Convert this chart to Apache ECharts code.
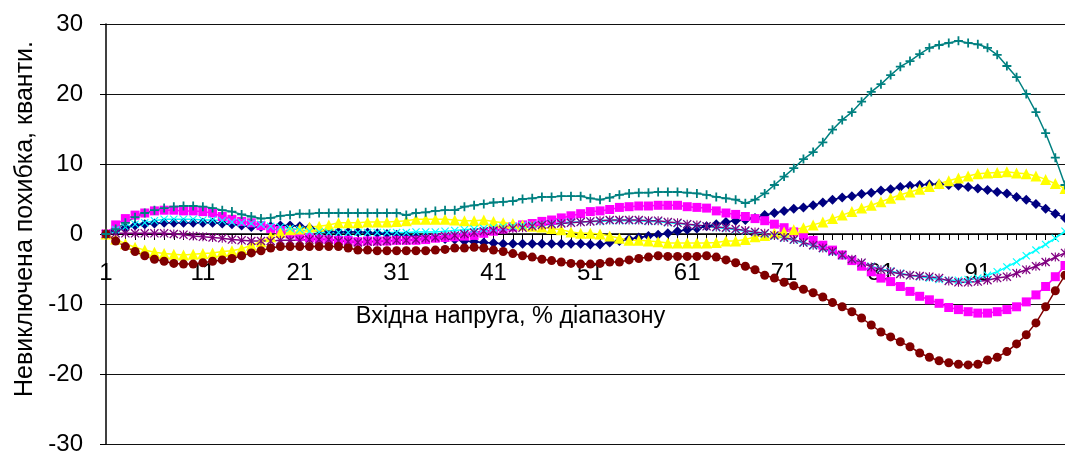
<!DOCTYPE html>
<html>
<head>
<meta charset="utf-8">
<script src="https://cdn.jsdelivr.net/npm/echarts@6/dist/echarts.min.js"></script>
<style>
  html, body { margin: 0; padding: 0; background: #fff; }
  #chart { width: 1065px; height: 455px; }
</style>
</head>
<body>
<div id="chart"></div>
<script>
// вхідна напруга, % діапазону: 1..100
var categories = [];
for (var i = 1; i <= 100; i++) categories.push(String(i));

var yTicks = [-30, -20, -10, 0, 10, 20, 30];

// серії (кольори як у Excel за замовчуванням)
var navy = [
  0, 0.5, 0.9, 1.2, 1.4, 1.5, 1.6, 1.6, 1.6, 1.6,
  1.6, 1.6, 1.5, 1.4, 1.2, 1.0, 1.0, 1.1, 1.2, 1.2,
  1.1, 0.9, 0.6, 0.4, 0.3, 0.3, 0.3, 0.2, 0.1, 0.0,
  -0.1, -0.2, -0.3, -0.4, -0.5, -0.7, -0.8, -1.0, -1.1, -1.2,
  -1.3, -1.4, -1.4, -1.4, -1.4, -1.4, -1.4, -1.4, -1.4, -1.4,
  -1.5, -1.5, -1.2, -1.0, -0.7, -0.5, -0.3, -0.1, 0.1, 0.4,
  0.6, 0.8, 1.1, 1.4, 1.7, 1.9, 2.0, 2.3, 2.7, 3.0,
  3.3, 3.6, 3.8, 4.1, 4.5, 4.9, 5.2, 5.4, 5.7, 5.9,
  6.2, 6.4, 6.7, 6.9, 7.0, 7.1, 7.1, 7.0, 6.9, 6.7,
  6.5, 6.3, 6.0, 5.8, 5.3, 4.9, 4.3, 3.6, 2.9, 2.3
];
var magenta = [
  0, 1.3, 2.2, 2.7, 3.0, 3.3, 3.4, 3.4, 3.3, 3.3,
  3.2, 3.0, 2.5, 2.1, 1.8, 1.6, 1.2, 0.8, 0.5, 0.0,
  -0.3, -0.5, -0.7, -0.8, -0.9, -0.9, -1.1, -1.0, -1.0, -1.0,
  -0.9, -0.9, -0.9, -0.8, -0.6, -0.5, -0.4, -0.3, -0.2, 0.1,
  0.4, 0.7, 1.0, 1.3, 1.5, 1.8, 2.0, 2.3, 2.6, 2.9,
  3.2, 3.3, 3.5, 3.8, 3.9, 4.0, 4.0, 4.1, 4.1, 4.1,
  3.9, 3.8, 3.7, 3.3, 3.0, 2.8, 2.5, 2.2, 1.9, 1.4,
  0.9, 0.3, -0.2, -0.9, -1.6, -2.3, -3.0, -3.8, -4.6, -5.4,
  -6.3, -6.8, -7.5, -8.2, -8.9, -9.4, -9.9, -10.5, -10.8, -11.1,
  -11.3, -11.3, -11.1, -10.8, -10.4, -9.7, -8.7, -7.5, -6.1, -4.5
];
var yellow = [
  0, -0.7, -1.4, -1.9, -2.3, -2.6, -2.8, -2.9, -3.0, -2.9,
  -2.8, -2.7, -2.5, -2.4, -2.1, -1.6, -1.1, -0.4, 0.2, 0.6,
  0.7, 1.0, 1.1, 1.3, 1.6, 1.6, 1.6, 1.7, 1.7, 1.7,
  1.8, 1.9, 2.1, 2.1, 2.1, 2.1, 2.0, 1.9, 1.9, 2.0,
  1.8, 1.6, 1.5, 1.3, 1.1, 1.0, 0.8, 0.6, 0.3, 0.1,
  0.1, 0.0, -0.3, -0.6, -0.9, -0.9, -1.0, -1.1, -1.3, -1.3,
  -1.3, -1.3, -1.3, -1.2, -1.0, -1.0, -0.8, -0.4, -0.2, 0.1,
  0.3, 0.6, 0.9, 1.3, 1.7, 2.2, 2.7, 3.2, 3.7, 4.1,
  4.6, 5.1, 5.6, 6.0, 6.4, 6.8, 7.2, 7.6, 8.0, 8.3,
  8.6, 8.7, 8.8, 8.9, 8.7, 8.6, 8.3, 7.8, 7.2, 6.5
];
var cyan = [
  0, 0.6, 1.0, 1.4, 1.6, 1.9, 2.1, 2.1, 2.1, 2.1,
  2.0, 2.0, 1.9, 1.7, 1.6, 1.5, 1.4, 1.1, 1.0, 0.8,
  0.6, 0.4, 0.3, 0.2, 0.2, 0.2, 0.2, 0.2, 0.2, 0.2,
  0.2, 0.2, 0.3, 0.3, 0.3, 0.4, 0.5, 0.6, 0.7, 0.8,
  0.9, 1.0, 1.1, 1.2, 1.3, 1.4, 1.5, 1.6, 1.7, 1.7,
  1.8, 1.8, 1.9, 1.9, 1.9, 1.9, 1.8, 1.8, 1.6, 1.5,
  1.4, 1.2, 1.1, 0.9, 0.8, 0.6, 0.4, 0.2, 0.0, -0.3,
  -0.6, -0.9, -1.3, -1.7, -2.1, -2.6, -3.1, -3.6, -4.1, -4.6,
  -5.0, -5.3, -5.6, -5.9, -6.1, -6.3, -6.5, -6.6, -6.6, -6.5,
  -6.3, -5.9, -5.4, -4.7, -4.0, -3.1, -2.3, -1.5, -0.6, 0.4
];
var purple = [
  0, 0.1, 0.1, 0.1, 0.1, 0.1, 0.1, 0.0, -0.1, -0.3,
  -0.4, -0.5, -0.6, -0.8, -0.9, -1.0, -1.0, -1.0, -0.9, -0.9,
  -0.9, -0.8, -0.8, -0.8, -1.0, -1.1, -1.2, -1.1, -1.1, -1.0,
  -0.9, -0.9, -0.8, -0.6, -0.5, -0.3, -0.2, 0.0, 0.2, 0.4,
  0.5, 0.6, 0.8, 0.9, 1.1, 1.3, 1.4, 1.5, 1.6, 1.7,
  1.8, 1.9, 2.0, 2.0, 2.0, 2.0, 1.9, 1.9, 1.7, 1.6,
  1.4, 1.3, 1.1, 1.0, 0.9, 0.7, 0.5, 0.3, 0.1, -0.2,
  -0.5, -0.8, -1.2, -1.6, -2.0, -2.5, -3.0, -3.6, -4.1, -4.7,
  -5.1, -5.4, -5.7, -5.9, -6.0, -6.1, -6.3, -6.7, -6.9, -6.9,
  -6.8, -6.6, -6.3, -6.1, -5.6, -5.1, -4.6, -4.0, -3.3, -2.7
];
var darkRed = [
  0, -1.0, -1.8, -2.5, -3.1, -3.6, -3.9, -4.2, -4.3, -4.3,
  -4.1, -3.9, -3.7, -3.5, -3.1, -2.7, -2.4, -2.0, -1.8, -1.8,
  -1.8, -1.8, -1.8, -1.8, -1.8, -2.0, -2.3, -2.3, -2.4, -2.4,
  -2.4, -2.4, -2.4, -2.4, -2.3, -2.2, -2.0, -2.0, -1.9, -2.0,
  -2.3, -2.5, -2.8, -3.1, -3.3, -3.6, -3.8, -4.0, -4.2, -4.3,
  -4.3, -4.2, -4.0, -4.0, -3.7, -3.5, -3.3, -3.1, -3.2, -3.2,
  -3.2, -3.2, -3.1, -3.3, -3.7, -4.1, -4.6, -5.1, -5.9, -6.3,
  -6.9, -7.4, -7.9, -8.4, -9.0, -9.8, -10.4, -11.1, -12.0, -13.0,
  -14.0, -14.7, -15.4, -16.1, -17.0, -17.6, -18.1, -18.4, -18.6, -18.7,
  -18.6, -18.0, -17.6, -16.8, -15.7, -14.4, -12.7, -10.4, -8.1, -5.9
];
var teal = [
  0, 0.7, 1.6, 2.4, 3.0, 3.4, 3.7, 3.9, 4.0, 4.0,
  3.9, 3.7, 3.4, 3.2, 2.8, 2.5, 2.2, 2.3, 2.6, 2.7,
  2.9, 2.9, 3.0, 3.0, 3.0, 3.0, 3.0, 3.0, 3.0, 3.0,
  3.0, 2.7, 3.0, 3.1, 3.3, 3.4, 3.4, 3.9, 4.1, 4.3,
  4.5, 4.6, 4.7, 5.0, 5.1, 5.3, 5.3, 5.4, 5.4, 5.4,
  5.1, 4.9, 5.2, 5.6, 5.8, 5.9, 5.9, 6.0, 6.0, 6.0,
  5.9, 5.8, 5.6, 5.3, 5.1, 4.9, 4.4, 4.9, 5.8, 7.0,
  8.2, 9.4, 10.7, 11.7, 13.1, 14.9, 16.3, 17.4, 18.9, 20.3,
  21.4, 22.7, 23.9, 24.7, 25.7, 26.6, 27.0, 27.3, 27.6, 27.3,
  27.1, 26.6, 25.6, 24.0, 22.4, 20.0, 17.4, 14.4, 10.9, 7.0
];

var FONT = 'Liberation Sans, Arial, sans-serif';

// маркери як в Excel
var PLUS = 'path://M4,0H6V4H10V6H6V10H4V6H0V4H4Z';
var CROSS = 'path://M1,0L5,4L9,0L10,1L6,5L10,9L9,10L5,6L1,10L0,9L4,5L0,1Z';
var STAR = 'path://M1,0L5,4L9,0L10,1L6,5L10,9L9,10L5,6L1,10L0,9L4,5L0,1Z M4.4,0H5.6V10H4.4Z';

function line(name, data, color, symbol, size) {
  return {
    name: name,
    type: 'line',
    data: data,
    symbol: symbol,
    symbolSize: size,
    showAllSymbol: true,
    lineStyle: { color: color, width: 1.5 },
    itemStyle: { color: color },
    emphasis: { disabled: true }
  };
}

// підписи осі X стоять біля нульової лінії, а не внизу сітки
var GRID_TOP = 24, GRID_BOTTOM = 11, PLOT_H = 455 - GRID_TOP - GRID_BOTTOM;
var zeroFromBottom = PLOT_H * (0 - yTicks[0]) / (yTicks[yTicks.length - 1] - yTicks[0]);

var chart = echarts.init(document.getElementById('chart'));
chart.setOption({
  animation: false,
  backgroundColor: '#fff',
  grid: { left: 106, right: 0, top: GRID_TOP, bottom: GRID_BOTTOM, outerBoundsMode: 'none', containLabel: false },
  xAxis: {
    type: 'category',
    data: categories,
    boundaryGap: false,
    name: 'Вхідна напруга, % діапазону',
    nameLocation: 'middle',
    nameGap: 71 - zeroFromBottom,
    nameTextStyle: { fontFamily: FONT, fontSize: 23.5, color: '#000', padding: [0, 150, 0, 0] },
    axisLine: { onZero: true, lineStyle: { color: '#000', width: 1.5 } },
    axisTick: { interval: 0, length: 6, lineStyle: { color: '#000' } },
    axisLabel: { interval: 9, margin: 27 - zeroFromBottom, fontFamily: FONT, fontSize: 24, color: '#000' },
    splitLine: { show: false }
  },
  yAxis: {
    type: 'value',
    min: yTicks[0],
    max: yTicks[yTicks.length - 1],
    interval: 10,
    name: 'Невиключена похибка, кванти.',
    nameLocation: 'middle',
    nameGap: 68,
    nameTextStyle: { fontFamily: FONT, fontSize: 25, color: '#000', padding: [0, 0, 0, 30] },
    axisLine: { show: true, lineStyle: { color: '#000', width: 1.5 } },
    axisTick: { show: true, length: 6, lineStyle: { color: '#000' } },
    axisLabel: { margin: 23, fontFamily: FONT, fontSize: 24, color: '#000' },
    splitLine: { lineStyle: { color: '#111', width: 1.2 } }
  },
  series: [
    line('1', navy, '#000080', 'diamond', 10),
    line('2', magenta, '#FF00FF', 'rect', 9),
    line('3', yellow, '#FFFF00', 'triangle', 11),
    line('4', cyan, '#00FFFF', CROSS, 8),
    line('5', purple, '#800080', STAR, 9),
    line('6', darkRed, '#800000', 'circle', 9),
    line('7', teal, '#008080', PLUS, 9)
  ]
});
</script>
</body>
</html>
